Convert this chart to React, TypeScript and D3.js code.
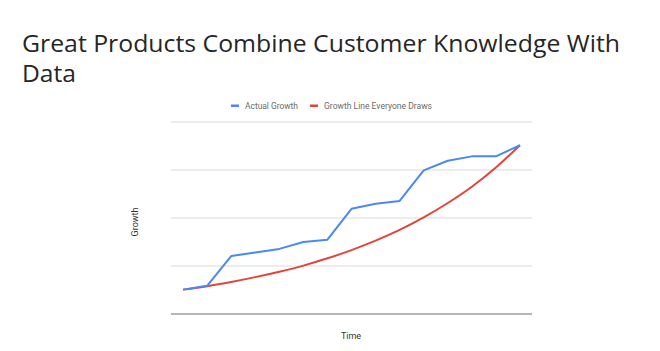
import React, { useEffect, useRef } from "react";
import * as d3 from "d3";

const periods = ["t1", "t2", "t3", "t4", "t5", "t6", "t7", "t8", "t9", "t10", "t11", "t12", "t13", "t14", "t15"];
const actualGrowth = [12.7, 14.7, 30.2, 32.0, 33.9, 37.5, 38.7, 54.8, 57.4, 58.9, 74.8, 79.8, 82.1, 82.1, 87.9];
const everyoneDraws = [12.7, 14.5, 16.7, 19.2, 22.0, 25.2, 29.0, 33.3, 38.2, 43.8, 50.3, 57.8, 66.3, 76.3, 87.9];
const yTicks = [0, 25, 50, 75, 100];

const BLUE = "#4a89f3";
const RED = "#e0453a";

export default function App() {
  const ref = useRef<SVGSVGElement>(null);

  useEffect(() => {
    const svg = d3.select(ref.current);
    svg.selectAll("*").remove();

    const x = d3.scalePoint().domain(periods).range([171, 532]).padding(0.5);
    const y = d3.scaleLinear().domain([0, 100]).range([314, 122]);

    // title
    svg.append("text").attr("x", 22).attr("y", 52).attr("font-family", "'Open Sans', sans-serif")
      .attr("font-size", 24).attr("fill", "#262626").attr("textLength", 598).attr("lengthAdjust", "spacingAndGlyphs")
      .text("Great Products Combine Customer Knowledge With");
    svg.append("text").attr("x", 22).attr("y", 82).attr("font-family", "'Open Sans', sans-serif")
      .attr("font-size", 24).attr("fill", "#262626").attr("textLength", 54).attr("lengthAdjust", "spacingAndGlyphs")
      .text("Data");

    // grid
    svg.append("g").selectAll("line").data(yTicks.slice(1)).join("line")
      .attr("x1", 171).attr("x2", 532).attr("y1", (d) => y(d)).attr("y2", (d) => y(d))
      .attr("stroke", "#dadada").attr("stroke-width", 1);
    svg.append("line").attr("x1", 171).attr("x2", 532).attr("y1", y(0)).attr("y2", y(0))
      .attr("stroke", "#9e9e9e").attr("stroke-width", 1.5);

    // legend
    const legend = [
      { name: "Actual Growth", color: BLUE, x: 231, w: 53 },
      { name: "Growth Line Everyone Draws", color: RED, x: 310, w: 108 },
    ];
    const lg = svg.append("g").selectAll("g").data(legend).join("g");
    lg.append("rect").attr("x", (d) => d.x).attr("y", 104.5).attr("width", 8).attr("height", 2.5).attr("fill", (d) => d.color);
    lg.append("text").attr("x", (d) => d.x + 14).attr("y", 108.5).attr("font-family", "Roboto, sans-serif")
      .attr("font-size", 9).attr("fill", "#6b6b6b").attr("textLength", (d) => d.w).attr("lengthAdjust", "spacingAndGlyphs")
      .text((d) => d.name);

    // axis titles
    svg.append("text").attr("transform", "translate(138,222) rotate(-90)").attr("text-anchor", "middle")
      .attr("font-family", "Roboto, sans-serif").attr("font-size", 9).attr("fill", "#333").text("Growth");
    svg.append("text").attr("x", 351).attr("y", 338.5).attr("text-anchor", "middle")
      .attr("font-family", "Roboto, sans-serif").attr("font-size", 9).attr("fill", "#333").text("Time");

    // lines
    const straight = d3.line<number>().x((_, i) => x(periods[i])!).y((d) => y(d));
    const smooth = d3.line<number>().x((_, i) => x(periods[i])!).y((d) => y(d)).curve(d3.curveMonotoneX);

    svg.append("path").attr("d", smooth(everyoneDraws)).attr("fill", "none").attr("stroke", RED).attr("stroke-width", 2);
    svg.append("path").attr("d", straight(actualGrowth)).attr("fill", "none").attr("stroke", BLUE).attr("stroke-width", 2)
      .attr("stroke-linejoin", "round");
  }, []);

  return (
    <div style={{ position: "absolute", left: 0, top: 0 }}>
      <svg ref={ref} width={660} height={351} style={{ display: "block", background: "#fff" }} />
    </div>
  );
}
